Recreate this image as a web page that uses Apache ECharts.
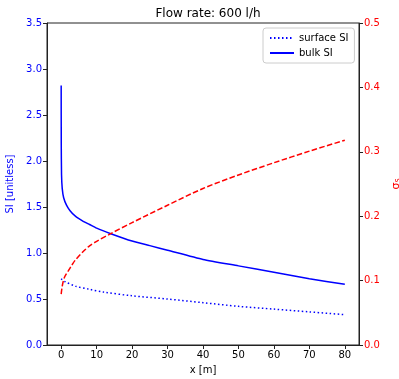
<!DOCTYPE html>
<html>
<head>
<meta charset="utf-8">
<script src="https://cdn.jsdelivr.net/npm/echarts@6/dist/echarts.min.js"></script>
<style>
  html, body { margin: 0; padding: 0; background: #fff; }
  #chart { width: 399px; height: 379px; }
</style>
</head>
<body>
<div id="chart"></div>
<script>
// values
const bulkX = [0, 0.02, 0.1, 0.3, 0.7, 1.5, 2.5, 4, 6, 8, 10, 14, 20, 25, 30, 40, 50, 60, 70, 80];
const bulkSI = [2.82, 2.2, 1.85, 1.7, 1.6, 1.52, 1.46, 1.4, 1.35, 1.31, 1.27, 1.21, 1.13, 1.08, 1.03, 0.93, 0.86, 0.79, 0.72, 0.66];

const surfX = [0, 1, 4, 8, 12, 20, 30, 40, 50, 60, 70, 80];
const surfSI = [0.72, 0.69, 0.64, 0.605, 0.575, 0.535, 0.5, 0.46, 0.42, 0.39, 0.36, 0.33];

const sigX = [0, 0.2, 0.5, 1, 2, 3, 4, 6, 8, 10, 14, 20, 30, 40, 50, 60, 70, 80];
const sigS = [0.079, 0.088, 0.097, 0.106, 0.115, 0.124, 0.132, 0.144, 0.154, 0.161, 0.173, 0.19, 0.217, 0.243, 0.264, 0.283, 0.301, 0.318];

const xTicks = [0, 10, 20, 30, 40, 50, 60, 70, 80];

const pairs = (xs, ys) => xs.map((x, i) => [x, ys[i]]);

const font = 'DejaVu Sans';
const chart = echarts.init(document.getElementById('chart'));

chart.setOption({
    animation: false,
    backgroundColor: '#fff',
    title: {
        text: 'Flow rate: 600 l/h',
        left: 203,
        textAlign: 'center',
        top: 3,
        textStyle: { fontFamily: font, fontSize: 12, fontWeight: 'normal', color: '#000' }
    },
    legend: {
        orient: 'vertical',
        left: 263,
        top: 28,
        padding: [5, 6, 5, 6],
        itemGap: 5,
        itemWidth: 24,
        itemHeight: 10,
        borderColor: '#ccc',
        borderWidth: 1,
        borderRadius: 3,
        backgroundColor: 'rgba(255,255,255,0.8)',
        itemStyle: { opacity: 0 },
        data: ['surface SI', 'bulk SI'],
        textStyle: { fontFamily: font, fontSize: 10, color: '#000' }
    },
    grid: {
        left: 47, right: 40, top: 23, bottom: 34,
        outerBoundsMode: 'none',
        containLabel: false,
        show: true, borderColor: '#222', borderWidth: 1
    },
    xAxis: {
        type: 'value',
        min: -4, max: 84,
        name: 'x [m]',
        nameLocation: 'middle',
        nameGap: 20,
        nameTextStyle: { fontFamily: font, fontSize: 10, color: '#000' },
        axisLine: { show: true, onZero: false, lineStyle: { color: '#222' } },
        axisTick: { show: true, customValues: xTicks, length: 4, lineStyle: { color: '#222' } },
        axisLabel: { customValues: xTicks, fontFamily: font, fontSize: 10, color: '#000', margin: 5 },
        splitLine: { show: false }
    },
    yAxis: [{
        type: 'value',
        min: 0, max: 3.5, interval: 0.5,
        name: 'SI [unitless]',
        nameLocation: 'middle',
        nameRotate: 90,
        nameGap: 27,
        nameTextStyle: { fontFamily: font, fontSize: 10, color: '#0000ff' },
        axisLine: { show: true, onZero: false, lineStyle: { color: '#222' } },
        axisTick: { show: true, length: 4, lineStyle: { color: '#222' } },
        axisLabel: { fontFamily: font, fontSize: 10, color: '#0000ff', margin: 5,
            formatter: v => v.toFixed(1) },
        splitLine: { show: false }
    }, {
        type: 'value',
        position: 'right',
        min: 0, max: 0.5, interval: 0.1,
        name: '{a|σ}{b|s}',
        nameLocation: 'middle',
        nameRotate: 90,
        nameGap: 29,
        nameTextStyle: {
            fontFamily: font, color: '#ff0000',
            rich: {
                a: { fontFamily: font, fontSize: 11, color: '#ff0000' },
                b: { fontFamily: font, fontSize: 8, color: '#ff0000', verticalAlign: 'bottom', padding: [4, 0, 0, 0] }
            }
        },
        axisLine: { show: true, onZero: false, lineStyle: { color: '#222' } },
        axisTick: { show: true, length: 4, lineStyle: { color: '#222' } },
        axisLabel: { fontFamily: font, fontSize: 10, color: '#ff0000', margin: 5,
            formatter: v => v.toFixed(1) },
        splitLine: { show: false }
    }],
    series: [{
        name: 'surface SI',
        type: 'line',
        yAxisIndex: 0,
        symbol: 'none',
        smooth: 0.3,
        data: pairs(surfX, surfSI),
        itemStyle: { color: '#0000ff' },
        lineStyle: { color: '#0000ff', width: 1.5, type: [1.5, 2.5] }
    }, {
        name: 'bulk SI',
        type: 'line',
        yAxisIndex: 0,
        symbol: 'none',
        smooth: 0.2,
        data: pairs(bulkX, bulkSI),
        itemStyle: { color: '#0000ff' },
        lineStyle: { color: '#0000ff', width: 1.5 }
    }, {
        name: 'sigma',
        type: 'line',
        yAxisIndex: 1,
        symbol: 'none',
        smooth: 0.3,
        data: pairs(sigX, sigS),
        itemStyle: { color: '#ff0000' },
        lineStyle: { color: '#ff0000', width: 1.5, type: [5.5, 2.4] }
    }]
});
</script>
</body>
</html>
